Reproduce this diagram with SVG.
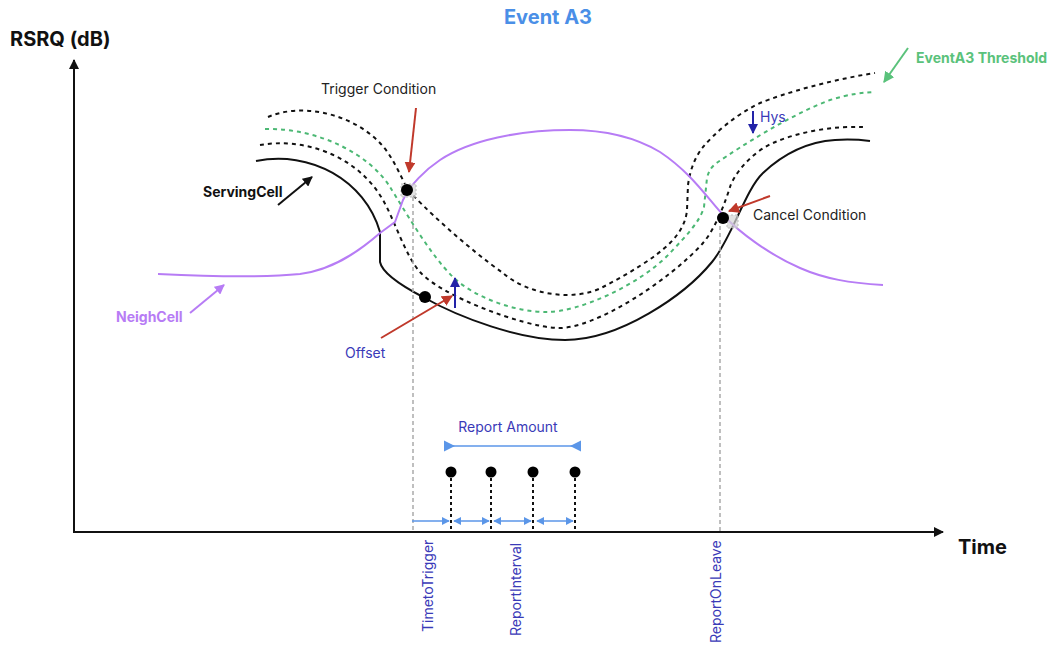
<svg xmlns="http://www.w3.org/2000/svg" width="1052" height="645" viewBox="0 0 1052 645">
  <defs>
    <style>
      text { font-family: Inter, "Liberation Sans", sans-serif; }
      .bold { font-weight: 700; }
      .lbl { font-size: 14px; fill: #222; }
      .blu { font-size: 14px; fill: #3a3ab8; }
      .curve { fill: none; stroke-width: 2; stroke-linejoin: round; }
      .solid { stroke: #111; }
      .dash { stroke: #111; stroke-dasharray: 4 4; }
      .thr { stroke: #4cb874; stroke-dasharray: 4 4; }
      .neigh { stroke: #b77cf5; }
      .guide { stroke: #aaa; stroke-width: 1.5; stroke-dasharray: 4 3; fill: none; }
      .tick { stroke: #111; stroke-width: 2; stroke-dasharray: 3 3; fill: none; }
      .span { stroke: #5b96e8; stroke-width: 1.6; fill: none; }
    </style>
    <marker id="hBlack" viewBox="0 0 10 10" refX="9" refY="5" markerWidth="10" markerHeight="10" markerUnits="userSpaceOnUse" orient="auto">
      <path d="M0,0 L10,5 L0,10 z" fill="#111"/>
    </marker>
    <marker id="hRed" viewBox="0 0 10 10" refX="9" refY="5" markerWidth="11" markerHeight="11" markerUnits="userSpaceOnUse" orient="auto">
      <path d="M0,0 L10,5 L0,10 z" fill="#c0392b"/>
    </marker>
    <marker id="hNavy" viewBox="0 0 10 10" refX="9" refY="5" markerWidth="10" markerHeight="10" markerUnits="userSpaceOnUse" orient="auto">
      <path d="M0,0 L10,5 L0,10 z" fill="#2323a8"/>
    </marker>
    <marker id="hPurple" viewBox="0 0 10 10" refX="9" refY="5" markerWidth="10" markerHeight="10" markerUnits="userSpaceOnUse" orient="auto">
      <path d="M0,0 L10,5 L0,10 z" fill="#b77cf5"/>
    </marker>
    <marker id="hGreen" viewBox="0 0 10 10" refX="9" refY="5" markerWidth="11" markerHeight="11" markerUnits="userSpaceOnUse" orient="auto">
      <path d="M0,0 L10,5 L0,10 z" fill="#5ac27b"/>
    </marker>
    <marker id="hSky" viewBox="0 0 10 10" refX="9" refY="5" markerWidth="8" markerHeight="8" markerUnits="userSpaceOnUse" orient="auto-start-reverse">
      <path d="M0,0 L10,5 L0,10 z" fill="#5b96e8"/>
    </marker>
  </defs>

  <rect width="1052" height="645" fill="#fff"/>

  <!-- titles and axis names -->
  <text x="548" y="24" text-anchor="middle" class="bold" font-size="20" fill="#4a8fe7">Event A3</text>
  <text x="10" y="46" class="bold" font-size="20" fill="#111">RSRQ (dB)</text>
  <text x="958" y="554" class="bold" font-size="20" fill="#111">Time</text>

  <!-- axes -->
  <g id="axes" stroke="#111" stroke-width="2" fill="none">
    <line x1="74" y1="532" x2="74" y2="60" marker-end="url(#hBlack)"/>
    <line x1="73" y1="532" x2="943" y2="532" marker-end="url(#hBlack)"/>
  </g>

  <!-- measurement curves -->
  <g id="curves">
    <path id="threshold-upper" class="curve dash" d="M268,117 C300,103 350,112 380,143 C392,155 400,175 407,188 C420,205 470,250 503,273 C528,295 575,302 603,287 C628,274 655,258 670,243 C680,233 686,222 687,210 L688,185 C690,170 695,157 703,147 C715,133 735,115 760,103 C785,93 830,80 875,73"/>
    <path id="threshold" class="curve thr" d="M265,129 C320,128 370,155 390,187 C402,206 430,255 453,277 C475,298 515,312 547,312 C579,312 640,285 670,253 C685,237 700,222 704,207 L707,178 C709,170 712,166 718,162 C740,147 790,115 830,100 C850,94 860,93 873,92"/>
    <path id="threshold-lower" class="curve dash" d="M260,145 C300,138 355,152 383,200 C395,221 405,255 420,272 C440,295 520,326 557,328 C594,330 670,280 703,243 C716,228 726,200 730,187 C734,174 752,152 773,143 C800,131 835,126 863,127"/>
    <path id="serving" class="curve solid" d="M256,161 C310,150 365,180 380,232 L380,262 C382,272 400,285 423,297 C460,318 520,340 565,340 C620,340 685,295 712,262 C732,238 745,190 763,173 C781,156 805,142 835,140 C850,139 862,140 870,141"/>
    <path id="neighbour" class="curve neigh" d="M158,274 C200,276 260,278 300,274 C330,270 355,255 380,233 L395,222 L403,200 C410,185 425,170 440,160 C470,140 520,130 570,130 C610,130 640,140 660,152 C690,172 705,195 723,215 C740,233 770,255 800,268 C825,279 850,283 883,285"/>
  </g>

  <!-- guide lines down to the time axis -->
  <g id="guides">
    <line class="guide" x1="413" y1="197" x2="413" y2="531"/>
    <line class="guide" x1="720" y1="226" x2="720" y2="531"/>
  </g>

  <!-- trigger point -->
  <g id="trigger">
    <rect x="401" y="184" width="15" height="13" fill="#d6d6d6" fill-opacity="0.7" stroke="#bbb" stroke-dasharray="2 2"/>
    <circle cx="407" cy="190" r="6" fill="#000"/>
    <line x1="416" y1="108" x2="409" y2="172" stroke="#c0392b" stroke-width="2" marker-end="url(#hRed)"/>
    <text x="321" y="94" class="lbl">Trigger Condition</text>
  </g>

  <!-- cancel point -->
  <g id="cancel">
    <rect x="727" y="215" width="11" height="13" fill="#d6d6d6" fill-opacity="0.7" stroke="#bbb" stroke-dasharray="2 2"/>
    <circle cx="723" cy="218" r="6" fill="#000"/>
    <line x1="770" y1="196" x2="729" y2="211" stroke="#c0392b" stroke-width="2" marker-end="url(#hRed)"/>
    <text x="753" y="220" class="lbl">Cancel Condition</text>
  </g>

  <!-- offset -->
  <g id="offset">
    <circle cx="425" cy="297" r="6" fill="#000"/>
    <line x1="455" y1="308" x2="455" y2="278" stroke="#2323a8" stroke-width="2" marker-end="url(#hNavy)"/>
    <line x1="381" y1="338" x2="452" y2="296" stroke="#c0392b" stroke-width="2" marker-end="url(#hRed)"/>
    <text x="345" y="358" class="blu">Offset</text>
  </g>

  <!-- hysteresis -->
  <g id="hys">
    <line x1="753" y1="111" x2="753" y2="133" stroke="#2323a8" stroke-width="2" marker-end="url(#hNavy)"/>
    <text x="760" y="122" class="blu">Hys</text>
  </g>

  <!-- curve labels -->
  <g id="serving-label">
    <line x1="278" y1="205" x2="312" y2="177" stroke="#111" stroke-width="2" marker-end="url(#hBlack)"/>
    <text x="203" y="197" class="bold" font-size="14" fill="#111">ServingCell</text>
  </g>
  <g id="neigh-label">
    <line x1="190" y1="313" x2="224" y2="285" stroke="#b77cf5" stroke-width="2" marker-end="url(#hPurple)"/>
    <text x="116" y="322" class="bold" font-size="14" fill="#b77cf5">NeighCell</text>
  </g>
  <g id="threshold-label">
    <line x1="908" y1="48" x2="884" y2="82" stroke="#5ac27b" stroke-width="2" marker-end="url(#hGreen)"/>
    <text x="916" y="63" class="bold" font-size="14" fill="#5ac27b">EventA3 Threshold</text>
  </g>

  <!-- reports -->
  <g id="report-amount">
    <line class="span" x1="446" y1="446" x2="578" y2="446" stroke-width="2"/>
    <path d="M444,440.5 L444,451.5 L455,446 z M581,440.5 L581,451.5 L570,446 z" fill="#5b96e8"/>
    <text x="508" y="432" text-anchor="middle" class="blu">Report Amount</text>
  </g>
  <g id="reports">
    <line class="tick" x1="451" y1="472" x2="451" y2="531"/>
    <line class="tick" x1="491" y1="472" x2="491" y2="531"/>
    <line class="tick" x1="533" y1="472" x2="533" y2="531"/>
    <line class="tick" x1="575" y1="472" x2="575" y2="531"/>
    <circle cx="451" cy="472" r="5.5" fill="#000"/>
    <circle cx="491" cy="472" r="5.5" fill="#000"/>
    <circle cx="533" cy="472" r="5.5" fill="#000"/>
    <circle cx="575" cy="472" r="5.5" fill="#000"/>
  </g>

  <!-- timing spans along the axis -->
  <g id="timing">
    <line class="span" x1="412" y1="521" x2="449" y2="521" marker-end="url(#hSky)"/>
    <line class="span" x1="454" y1="521" x2="489" y2="521" marker-start="url(#hSky)" marker-end="url(#hSky)"/>
    <line class="span" x1="494" y1="521" x2="531" y2="521" marker-start="url(#hSky)" marker-end="url(#hSky)"/>
    <line class="span" x1="537" y1="521" x2="573" y2="521" marker-start="url(#hSky)" marker-end="url(#hSky)"/>
  </g>

  <!-- time axis labels -->
  <g id="axis-labels">
    <text class="blu" transform="translate(433,632) rotate(-90)">TimetoTrigger</text>
    <text class="blu" transform="translate(521,636) rotate(-90)">ReportInterval</text>
    <text class="blu" transform="translate(721,643) rotate(-90)">ReportOnLeave</text>
  </g>
</svg>
